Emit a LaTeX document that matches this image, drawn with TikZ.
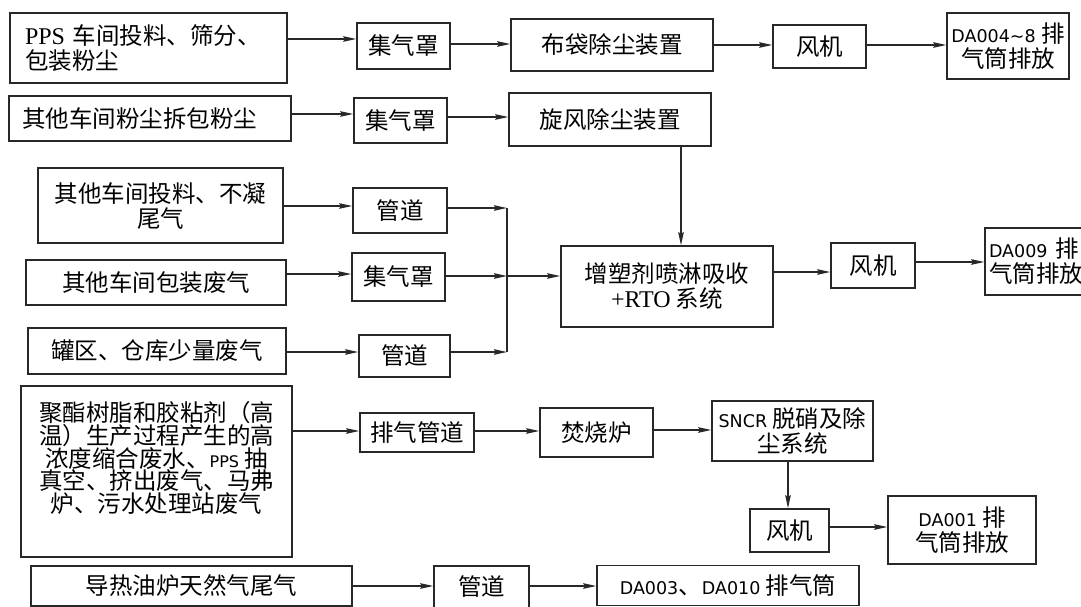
\documentclass[tikz,border=0pt]{standalone}
\usepackage{fontspec}
\setmainfont{Noto Sans CJK SC}
\newfontfamily\serf{Liberation Serif}
\newfontfamily\dvs{DejaVu Sans}
\usetikzlibrary{arrows.meta}
\newcommand\fz{\fontsize{23.5}{25}\selectfont}
\newcommand\lat[1]{{\dvs\fontsize{17.5}{25}\selectfont #1}}
\newcommand\ltr[1]{{\serf\fontsize{24}{25}\selectfont #1}}
\definecolor{linec}{RGB}{40,40,40}
\begin{document}
\begin{tikzpicture}[x=1pt,y=-1pt,
  box/.style={draw=linec, line width=1.5pt, inner sep=0pt, font=\fz, align=center},
  arr/.style={draw=linec, line width=1.4pt, -{Stealth[length=13pt,width=5.5pt,inset=1.5pt]}},
  ln/.style={draw=linec, line width=1.4pt}]
\useasboundingbox (0,0) rectangle (1081,607);
\clip (0,0) rectangle (1081,607);
\fill[white] (0,0) rectangle (1081,607);
% row 1
\node[box, minimum width=277pt, minimum height=70pt, text width=247pt, inner xsep=15pt, align=left] (A1) at (148.5,48) {\ltr{PPS} 车间投料、筛分、\\包装粉尘};
\node[box, minimum width=93pt, minimum height=46pt] (J1) at (403.5,46) {集气罩};
\node[box, minimum width=202pt, minimum height=52pt] (BD) at (612,45) {布袋除尘装置};
\node[box, minimum width=93pt, minimum height=43pt] (F1) at (819.5,46.5) {风机};
\node[box, minimum width=122pt, minimum height=66pt] (DA4) at (1008,46) {\lat{DA004\textasciitilde 8} 排\\气筒排放};
\draw[arr] (A1.east |- 0,39) -- (J1.west |- 0,39);
\draw[arr] (J1.east |- 0,44) -- (BD.west |- 0,44);
\draw[arr] (BD.east |- 0,45) -- (F1.west |- 0,45);
\draw[arr] (F1.east |- 0,45) -- (DA4.west |- 0,45);
% row 2
\node[box, minimum width=282pt, minimum height=45pt, text width=256pt, inner xsep=13pt, align=left] (B1) at (150,118.5) {其他车间粉尘拆包粉尘};
\node[box, minimum width=93pt, minimum height=45pt] (J2) at (400.5,120.5) {集气罩};
\node[box, minimum width=202pt, minimum height=53pt] (XF) at (610,119.5) {旋风除尘装置};
\draw[arr] (B1.east |- 0,114) -- (J2.west |- 0,114);
\draw[arr] (J2.east |- 0,117) -- (XF.west |- 0,117);
% row 3
\node[box, minimum width=245pt, minimum height=75pt] (C1) at (160.5,205.5) {其他车间投料、不凝\\尾气};
\node[box, minimum width=94pt, minimum height=45pt] (G1) at (400,210.5) {管道};
\node[box, minimum width=260pt, minimum height=45pt] (C2) at (156,282.5) {其他车间包装废气};
\node[box, minimum width=93pt, minimum height=48pt] (J3) at (398.5,277) {集气罩};
\node[box, minimum width=258pt, minimum height=46pt] (C3) at (157,351) {罐区、仓库少量废气};
\node[box, minimum width=91pt, minimum height=42pt] (G2) at (404.5,356) {管道};
\node[box, minimum width=212pt, minimum height=81pt] (RTO) at (667,286.5) {增塑剂喷淋吸收\\\ltr{+RTO} 系统};
\node[box, minimum width=84pt, minimum height=45pt] (F2) at (873,265.5) {风机};
\node[box, minimum width=130pt, minimum height=67pt, text width=122pt, inner xsep=4pt, align=left] (DA9) at (1050,261.5) {\lat{DA009} 排\\气筒排放};
\coordinate (bt) at (507,208);
\coordinate (bm) at (507,276);
\coordinate (bb) at (507,352);
\draw[arr] (C1.east |- 0,206) -- (G1.west |- 0,206);
\draw[arr] (C2.east |- 0,274) -- (J3.west |- 0,274);
\draw[arr] (C3.east |- 0,352) -- (G2.west |- 0,352);
\draw[arr] (G1.east |- bt) -- (bt);
\draw[arr] (J3.east |- bm) -- (bm);
\draw[arr] (G2.east |- bb) -- (bb);
\draw[ln] (bt) -- (bb);
\draw[arr] (bm) -- (RTO.west |- bm);
\draw[arr] (XF.south -| 681,0) -- (RTO.north -| 681,0);
\draw[arr] (RTO.east |- 0,272) -- (F2.west |- 0,272);
\draw[arr] (F2.east |- 0,262) -- (DA9.west |- 0,262);
% row 5
\node[box, minimum width=271pt, minimum height=171pt] (D1) at (156.5,471.5) {};
\node[font=\fontsize{23.5}{22.6}\selectfont, align=center, inner sep=0pt] (D1t) at (156.5,458) {聚酯树脂和胶粘剂（高\\温）生产过程产生的高\\浓度缩合废水、{\dvs\fontsize{16}{22}\selectfont PPS} 抽\\真空、挤出废气、马弗\\炉、污水处理站废气};
\node[box, minimum width=114pt, minimum height=39pt] (PG) at (417,432.5) {排气管道};
\node[box, minimum width=113pt, minimum height=49pt] (FS) at (596.5,432.5) {焚烧炉};
\node[box, minimum width=161pt, minimum height=60pt] (SN) at (792.5,431) {\lat{SNCR} 脱硝及除\\尘系统};
\node[box, minimum width=79pt, minimum height=43pt] (F3) at (789.5,530.5) {风机};
\node[box, minimum width=148pt, minimum height=68pt] (DA1) at (962,530) {\lat{DA001} 排\\气筒排放};
\draw[arr] (D1.east |- 0,431) -- (PG.west |- 0,431);
\draw[arr] (PG.east |- 0,431) -- (FS.west |- 0,431);
\draw[arr] (FS.east |- 0,430) -- (SN.west |- 0,430);
\draw[arr] (SN.south -| 788,0) -- (F3.north -| 788,0);
\draw[arr] (F3.east |- 0,527) -- (DA1.west |- 0,527);
% row 6
\node[box, minimum width=321pt, minimum height=40pt] (E1) at (191.5,586) {导热油炉天然气尾气};
\node[box, minimum width=95pt, minimum height=42pt] (G3) at (481.5,587) {管道};
\node[box, minimum width=262pt, minimum height=40pt] (DA3) at (728,585.5) {\lat{DA003}、\lat{DA010} 排气筒};
\draw[arr] (E1.east |- 0,586) -- (G3.west |- 0,586);
\draw[arr] (G3.east |- 0,586) -- (DA3.west |- 0,586);
\end{tikzpicture}
\end{document}
